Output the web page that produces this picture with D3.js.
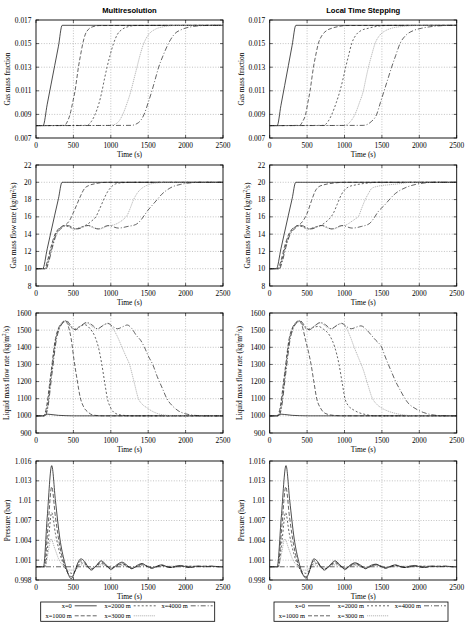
<!DOCTYPE html>
<html>
<head>
<meta charset="utf-8">
<script src="https://cdn.jsdelivr.net/npm/d3@7"></script>
<style>
  body { margin: 0; background: #fff; }
  svg text { font-family: "Liberation Serif", "Times New Roman", serif; fill: #000; }
  svg text.title { font-family: "Liberation Sans", Arial, sans-serif; font-weight: bold; }
</style>
</head>
<body>
<svg id="chart"></svg>
<script>
// ---------- data ----------
const seriesNames = ['x=0', 'x=1000 m', 'x=2000 m', 'x=3000 m', 'x=4000 m']
const panelTitles = ['Multiresolution', 'Local Time Stepping']

const xTicks = [0, 500, 1000, 1500, 2000, 2500]
const fracTicks = [0.007, 0.009, 0.011, 0.013, 0.015, 0.017]
const fracLabels = ['0.007', '0.009', '0.011', '0.013', '0.015', '0.017']
const gasTicks = [8, 10, 12, 14, 16, 18, 20, 22]
const gasLabels = ['8', '10', '12', '14', '16', '18', '20', '22']
const liqTicks = [900, 1000, 1100, 1200, 1300, 1400, 1500, 1600]
const liqLabels = ['900', '1000', '1100', '1200', '1300', '1400', '1500', '1600']
const presTicks = [0.998, 1.001, 1.004, 1.007, 1.010, 1.013, 1.016]
const presLabels = ['0.998', '1.001', '1.004', '1.007', '1.01', '1.013', '1.016']

// gas mass fraction, [time, value] per series (x=0 ... x=4000 m)
const mrGasFraction = [
  [[0,.00805],[95,.00805],[150,.00986],[200,.01150],[250,.01314],[300,.01478],[350,.01655],[2500,.01655]],
  [[0,.00805],[380,.00807],[420,.0084],[455,.009],[490,.0100],[522,.011],[545,.012],[567,.013],[595,.014],[625,.015],[660,.0158],[700,.0162],[760,.01643],[850,.01653],[2500,.01655]],
  [[0,.00805],[680,.00807],[740,.0084],[790,.009],[840,.0099],[880,.0109],[915,.012],[950,.013],[990,.014],[1036,.015],[1090,.0158],[1150,.0162],[1230,.01643],[1330,.01653],[2500,.01655]],
  [[0,.00805],[1000,.00807],[1090,.0083],[1160,.009],[1220,.0100],[1270,.011],[1310,.012],[1350,.013],[1390,.014],[1440,.015],[1510,.0158],[1590,.0162],[1700,.01642],[1850,.01653],[2500,.01655]],
  [[0,.00805],[1270,.00807],[1370,.0083],[1445,.009],[1500,.0100],[1550,.011],[1595,.012],[1640,.013],[1700,.014],[1770,.015],[1850,.0158],[1950,.0162],[2080,.01643],[2250,.01653],[2500,.01655]]
]
const ltsGasFraction = [
  [[0,.00805],[100,.00805],[150,.00975],[200,.01145],[250,.01315],[300,.01485],[350,.01655],[2500,.01655]],
  [[0,.00805],[400,.00807],[440,.0084],[480,.009],[510,.0100],[540,.011],[562,.012],[585,.013],[615,.014],[650,.015],[700,.0157],[760,.0161],[830,.0163],[920,.01645],[1010,.01653],[2500,.01655]],
  [[0,.00805],[720,.00807],[780,.0084],[830,.009],[890,.0100],[940,.011],[980,.012],[1016,.013],[1055,.014],[1096,.015],[1150,.0157],[1220,.0161],[1320,.0163],[1450,.01648],[1600,.01654],[2500,.01655]],
  [[0,.00805],[1000,.00807],[1080,.0084],[1140,.009],[1200,.0100],[1252,.011],[1285,.012],[1320,.013],[1362,.014],[1408,.015],[1470,.0157],[1550,.0161],[1630,.0163],[1800,.01647],[2000,.01654],[2500,.01655]],
  [[0,.00805],[1250,.00807],[1360,.0084],[1430,.009],[1480,.0100],[1530,.011],[1580,.012],[1630,.013],[1685,.014],[1742,.015],[1820,.0157],[1920,.0161],[2030,.0163],[2200,.01647],[2390,.01654],[2500,.01655]]
]

// gas mass flow rate (kg/m2/s)
const mrGasFlow = [
  [[0,10],[90,10],[150,12.3],[200,14.25],[250,16.2],[300,18.1],[348,20],[2500,20]],
  [[0,10],[115,10],[150,10.8],[200,12.5],[250,13.9],[300,14.6],[350,14.9],[400,15.1],[450,15.6],[500,16.5],[550,17.5],[600,18.5],[650,19.3],[700,19.6],[800,19.85],[950,20],[2500,20]],
  [[0,10],[125,10],[160,10.8],[210,12.5],[260,13.9],[310,14.6],[380,15.0],[450,14.8],[520,14.6],[600,14.8],[680,15.1],[740,15.5],[800,16.0],[850,16.9],[900,17.9],[950,18.8],[1000,19.4],[1060,19.8],[1150,19.95],[1300,20],[2500,20]],
  [[0,10],[130,10],[165,10.8],[215,12.5],[265,13.9],[320,14.6],[400,15.0],[500,14.6],[580,14.7],[680,15.0],[780,14.7],[850,14.6],[950,14.9],[1050,15.1],[1120,15.4],[1180,15.8],[1220,16.2],[1260,17.0],[1300,17.9],[1350,18.7],[1400,19.2],[1450,19.5],[1530,19.8],[1650,19.95],[1800,20],[2500,20]],
  [[0,10],[135,10],[170,10.8],[220,12.5],[270,13.9],[330,14.6],[420,15.0],[550,14.6],[700,15.0],[830,14.6],[970,15.0],[1100,14.7],[1230,14.9],[1330,15.1],[1400,15.6],[1450,16.2],[1500,16.8],[1560,17.4],[1620,18.0],[1680,18.6],[1750,19.1],[1830,19.5],[1930,19.75],[2030,19.9],[2200,20],[2500,20]]
]
const ltsGasFlow = [
  [[0,10],[90,10],[150,12.3],[200,14.25],[250,16.2],[300,18.1],[348,20],[2500,20]],
  [[0,10],[110,10],[150,10.9],[200,12.6],[250,13.9],[300,14.6],[350,14.9],[400,15.1],[450,15.6],[500,16.4],[560,17.9],[610,19.0],[650,19.45],[720,19.7],[850,19.9],[1000,20],[2500,20]],
  [[0,10],[120,10],[160,10.9],[210,12.6],[260,13.9],[310,14.6],[380,15.0],[450,14.8],[520,14.6],[600,14.8],[680,15.0],[750,15.4],[800,15.8],[850,16.4],[900,17.4],[960,18.6],[1000,19.1],[1050,19.45],[1150,19.7],[1300,19.9],[1450,20],[2500,20]],
  [[0,10],[125,10],[165,10.9],[215,12.6],[265,13.9],[320,14.6],[400,15.0],[500,14.6],[580,14.7],[680,15.0],[780,14.7],[850,14.6],[950,14.9],[1030,15.1],[1100,15.5],[1150,15.8],[1190,16.1],[1230,17.0],[1275,17.95],[1320,18.7],[1365,19.3],[1450,19.55],[1580,19.7],[1700,19.8],[1900,20],[2500,20]],
  [[0,10],[130,10],[170,10.9],[220,12.6],[270,13.9],[330,14.6],[420,15.0],[550,14.6],[700,15.0],[830,14.6],[970,15.0],[1100,14.7],[1230,14.9],[1330,15.2],[1390,15.8],[1450,16.6],[1540,17.4],[1610,18.1],[1680,18.7],[1760,19.15],[1850,19.5],[1950,19.75],[2050,19.9],[2200,20],[2500,20]]
]

// liquid mass flow rate (kg/m2/s)
const mrLiquidFlow = [
  [[0,1000],[100,1000],[150,1010],[200,1008],[300,1003],[400,1001],[500,1000],[2500,1000]],
  [[0,1000],[100,1000],[130,1030],[200,1250],[260,1450],[300,1510],[350,1545],[390,1555],[430,1525],[470,1450],[510,1320],[550,1210],[590,1110],[640,1050],[700,1020],[770,1004],[900,1000],[2500,1000]],
  [[0,1000],[110,1000],[140,1030],[205,1250],[265,1450],[305,1510],[355,1543],[400,1553],[450,1525],[510,1505],[580,1520],[650,1532],[720,1510],[790,1460],[840,1390],[880,1300],[920,1190],[955,1100],[1000,1045],[1060,1015],[1150,1004],[1300,1000],[2500,1000]],
  [[0,1000],[115,1000],[145,1030],[210,1250],[270,1450],[310,1510],[360,1543],[400,1550],[460,1522],[520,1505],[600,1525],[680,1542],[760,1518],[830,1508],[900,1530],[960,1538],[1020,1515],[1080,1470],[1150,1400],[1200,1350],[1250,1300],[1310,1200],[1370,1100],[1420,1068],[1480,1048],[1550,1028],[1650,1010],[1750,1003],[1850,1000],[2500,1000]],
  [[0,1000],[120,1000],[150,1030],[215,1250],[275,1450],[315,1510],[365,1545],[405,1557],[460,1530],[530,1502],[600,1525],[680,1545],[750,1530],[820,1508],[890,1525],[960,1540],[1030,1520],[1090,1508],[1160,1520],[1220,1530],[1280,1510],[1340,1470],[1400,1440],[1450,1400],[1500,1350],[1560,1300],[1620,1230],[1690,1160],[1750,1100],[1820,1060],[1900,1030],[2000,1012],[2100,1004],[2250,1000],[2500,1000]]
]
const ltsLiquidFlow = [
  [[0,1000],[100,1000],[150,1010],[200,1008],[300,1003],[400,1001],[500,1000],[2500,1000]],
  [[0,1000],[100,1000],[130,1030],[200,1250],[260,1450],[300,1510],[350,1545],[390,1555],[430,1530],[480,1440],[520,1370],[553,1300],[590,1200],[629,1100],[680,1045],[740,1015],[850,1003],[1000,1000],[2500,1000]],
  [[0,1000],[110,1000],[140,1030],[205,1250],[265,1450],[305,1510],[355,1543],[400,1553],[450,1525],[510,1505],[580,1515],[650,1522],[720,1505],[800,1470],[870,1400],[927,1300],[970,1190],[1007,1100],[1060,1055],[1120,1035],[1185,1020],[1280,1008],[1400,1000],[2500,1000]],
  [[0,1000],[115,1000],[145,1030],[210,1250],[270,1450],[310,1510],[360,1543],[400,1550],[460,1522],[520,1505],[600,1525],[680,1542],[760,1518],[830,1508],[900,1530],[960,1538],[1020,1515],[1070,1470],[1130,1400],[1190,1335],[1250,1270],[1310,1185],[1370,1105],[1430,1068],[1500,1045],[1580,1028],[1676,1015],[1800,1005],[1950,1000],[2500,1000]],
  [[0,1000],[120,1000],[150,1030],[215,1250],[275,1450],[315,1510],[365,1545],[405,1557],[460,1530],[530,1502],[600,1525],[680,1545],[750,1530],[820,1508],[890,1525],[960,1540],[1030,1520],[1090,1508],[1160,1518],[1220,1525],[1300,1500],[1360,1470],[1420,1440],[1497,1400],[1540,1350],[1586,1300],[1635,1250],[1684,1200],[1745,1150],[1809,1100],[1860,1070],[1920,1050],[1990,1032],[2054,1020],[2150,1008],[2250,1002],[2400,1000],[2500,1000]]
]

// pressure (bar)
const mrPressure = [
  [[0,1],[100,1],[150,1.0075],[210,1.0153],[260,1.0100],[320,1.0042],[380,1.0008],[430,0.9989],[470,0.9982],[520,0.9993],[560,1.0006],[600,1.0012],[650,1.0008],[700,0.9999],[740,0.9995],[800,1.0001],[870,1.0009],[930,1.0004],[1000,0.9996],[1080,1.0003],[1150,1.0007],[1220,1.0002],[1280,0.9997],[1350,1.0002],[1420,1.0005],[1480,1.0001],[1550,0.9998],[1620,1.0001],[1680,1.0003],[1750,1.0],[1800,0.9999],[1870,1.0001],[1930,1.0002],[2000,1.0],[2060,0.9999],[2150,1.0001],[2250,1.0],[2350,1.0001],[2450,1.0],[2500,1.0]],
  [[0,1],[110,1],[160,1.006],[210,1.0121],[260,1.0075],[320,1.0030],[380,1.0003],[440,0.9988],[475,0.9985],[520,0.9993],[560,1.0004],[600,1.0009],[650,1.0006],[700,0.9999],[740,0.9996],[800,1.0001],[870,1.0007],[930,1.0003],[1000,0.9997],[1080,1.0002],[1150,1.0005],[1220,1.0001],[1280,0.9998],[1350,1.0001],[1420,1.0004],[1480,1.0001],[1550,0.9998],[1680,1.0002],[1800,0.9999],[1930,1.0001],[2060,0.9999],[2200,1.0001],[2500,1.0]],
  [[0,1],[120,1],[165,1.004],[210,1.0082],[260,1.0050],[320,1.0020],[380,1.0],[440,0.9992],[480,0.9990],[530,0.9995],[600,1.0006],[650,1.0004],[740,0.9997],[870,1.0005],[1000,0.9998],[1150,1.0004],[1280,0.9998],[1420,1.0003],[1550,0.9999],[1680,1.0002],[1800,0.9999],[1930,1.0001],[2500,1.0]],
  [[0,1],[120,1],[160,1.002],[200,1.0042],[250,1.0028],[310,1.0010],[380,1.0],[450,0.9995],[480,0.9995],[600,1.0003],[740,0.9998],[870,1.0003],[1000,0.9999],[1150,1.0002],[1280,0.9999],[1420,1.0002],[1550,0.9999],[1680,1.0001],[2500,1.0]],
  [[0,1],[2500,1]]
]
const ltsPressure = [
  [[0,1],[100,1],[155,1.0075],[218,1.0153],[268,1.0100],[328,1.0042],[388,1.0008],[440,0.9989],[484,0.9983],[530,0.9993],[560,1.0005],[590,1.0012],[640,1.0008],[690,0.9999],[731,0.9995],[800,1.0002],[873,1.0009],[930,1.0004],[1007,0.9996],[1080,1.0003],[1141,1.0006],[1220,1.0002],[1280,0.9997],[1350,1.0002],[1420,1.0004],[1480,1.0001],[1550,0.9998],[1620,1.0001],[1680,1.0003],[1750,1.0],[1810,0.9999],[1870,1.0001],[1940,1.0002],[2000,1.0],[2070,0.9999],[2150,1.0001],[2250,1.0],[2350,1.0001],[2450,1.0],[2500,1.0]],
  [[0,1],[110,1],[162,1.006],[215,1.0121],[265,1.0075],[325,1.0030],[385,1.0003],[445,0.9988],[482,0.9985],[530,0.9993],[560,1.0004],[590,1.0009],[640,1.0006],[690,0.9999],[731,0.9996],[800,1.0001],[873,1.0007],[930,1.0003],[1007,0.9997],[1080,1.0002],[1141,1.0005],[1220,1.0001],[1280,0.9998],[1350,1.0001],[1420,1.0003],[1480,1.0001],[1550,0.9998],[1680,1.0002],[1810,0.9999],[1940,1.0001],[2070,0.9999],[2200,1.0001],[2500,1.0]],
  [[0,1],[115,1],[165,1.004],[212,1.0082],[262,1.0050],[322,1.0020],[385,1.0],[445,0.9992],[485,0.9990],[530,0.9995],[595,1.0006],[645,1.0004],[731,0.9997],[873,1.0005],[1007,0.9998],[1141,1.0004],[1280,0.9998],[1420,1.0003],[1550,0.9999],[1680,1.0002],[1810,0.9999],[1940,1.0001],[2500,1.0]],
  [[0,1],[115,1],[158,1.002],[202,1.0042],[252,1.0028],[312,1.0010],[385,1.0],[450,0.9995],[485,0.9995],[595,1.0003],[731,0.9998],[873,1.0003],[1007,0.9999],[1141,1.0002],[1280,0.9999],[1420,1.0002],[1550,0.9999],[1680,1.0001],[2500,1.0]],
  [[0,1],[2500,1]]
]

// ---------- layout ----------
const width = 470
const height = 622
const colLeft = [36, 269.7]
const plotW = 187

const rows = [
  { top: 20, h: 118, domain: [0.007, 0.017], ticks: fracTicks, labels: fracLabels,
    ylab: ['Gas mass fraction'], ylabX: [7, 241], data: [mrGasFraction, ltsGasFraction] },
  { top: 165, h: 121, domain: [8, 22], ticks: gasTicks, labels: gasLabels,
    ylab: ['Gas mass flow rate (kg/m', '2', '/s)'], ylabX: [13.5, 247], data: [mrGasFlow, ltsGasFlow] },
  { top: 313, h: 120, domain: [900, 1600], ticks: liqTicks, labels: liqLabels,
    ylab: ['Liquid mass flow rate (kg/m', '2', '/s)'], ylabX: [6, 239], data: [mrLiquidFlow, ltsLiquidFlow] },
  { top: 461, h: 119, domain: [0.998, 1.016], ticks: presTicks, labels: presLabels,
    ylab: ['Pressure (bar)'], ylabX: [7, 241], data: [mrPressure, ltsPressure] }
]

const seriesStyle = [
  { stroke: '#111', dash: null, w: 0.75 },
  { stroke: '#111', dash: '4,2', w: 0.65 },
  { stroke: '#111', dash: '2,2', w: 0.65 },
  { stroke: '#999', dash: '1.2,0.8', w: 0.7 },
  { stroke: '#111', dash: '5,2,1,2', w: 0.65 }
]

const svg = d3.select('#chart')
  .attr('width', width)
  .attr('height', height)

svg.append('rect').attr('width', width).attr('height', height).attr('fill', '#fff')

/**
 * Draws one panel (row r, column c).
 */
function drawPanel (r, c) {
  const row = rows[r]
  const left = colLeft[c]
  const xScale = d3.scaleLinear().domain([0, 2500]).range([0, plotW])
  const yScale = d3.scaleLinear().domain(row.domain).range([row.h, 0])

  const g = svg.append('g')
    .attr('transform', 'translate(' + left + ',' + row.top + ')')

  const clipId = 'clip-' + r + '-' + c
  g.append('clipPath').attr('id', clipId)
    .append('rect').attr('width', plotW).attr('height', row.h)

  // grid
  const grid = g.append('g').attr('class', 'grid')
  grid.selectAll('.gx')
    .data(xTicks.slice(1, -1))
    .enter().append('line')
    .attr('x1', d => xScale(d)).attr('x2', d => xScale(d))
    .attr('y1', 0).attr('y2', row.h)
  grid.selectAll('.gy')
    .data(row.ticks.slice(1, -1))
    .enter().append('line')
    .attr('y1', d => yScale(d)).attr('y2', d => yScale(d))
    .attr('x1', 0).attr('x2', plotW)
  grid.selectAll('line')
    .attr('stroke', '#9a9a9a')
    .attr('stroke-width', 0.6)
    .attr('stroke-dasharray', '1,1.6')

  // inward tick marks, mirrored on top and right
  const tk = g.append('g')
  xTicks.forEach(t => {
    tk.append('line').attr('x1', xScale(t)).attr('x2', xScale(t)).attr('y1', row.h).attr('y2', row.h - 3)
    tk.append('line').attr('x1', xScale(t)).attr('x2', xScale(t)).attr('y1', 0).attr('y2', 3)
  })
  row.ticks.forEach(t => {
    tk.append('line').attr('y1', yScale(t)).attr('y2', yScale(t)).attr('x1', 0).attr('x2', 3)
    tk.append('line').attr('y1', yScale(t)).attr('y2', yScale(t)).attr('x1', plotW).attr('x2', plotW - 3)
  })
  tk.selectAll('line').attr('stroke', '#000').attr('stroke-width', 0.6)

  // series
  const line = d3.line()
    .x(d => xScale(d[0]))
    .y(d => yScale(d[1]))
    .curve(d3.curveMonotoneX)

  g.append('g').attr('clip-path', 'url(#' + clipId + ')')
    .selectAll('path')
    .data(row.data[c])
    .enter().append('path')
    .attr('d', line)
    .attr('fill', 'none')
    .attr('stroke', (d, i) => seriesStyle[i].stroke)
    .attr('stroke-width', (d, i) => seriesStyle[i].w)
    .attr('stroke-dasharray', (d, i) => seriesStyle[i].dash)
    .attr('stroke-linejoin', 'round')

  // frame
  g.append('rect')
    .attr('width', plotW).attr('height', row.h)
    .attr('fill', 'none').attr('stroke', '#000').attr('stroke-width', 0.9)

  // tick labels
  g.selectAll('.xl')
    .data(xTicks)
    .enter().append('text')
    .attr('x', d => xScale(d))
    .attr('y', row.h + 10.3)
    .attr('text-anchor', 'middle')
    .attr('font-size', 7.4)
    .text(d => d)

  g.selectAll('.yl')
    .data(row.ticks)
    .enter().append('text')
    .attr('x', -4.5)
    .attr('y', d => yScale(d) + 2.5)
    .attr('text-anchor', 'end')
    .attr('font-size', 7.4)
    .text((d, i) => row.labels[i])

  // x axis title
  g.append('text')
    .attr('x', plotW / 2)
    .attr('y', row.h + 19)
    .attr('text-anchor', 'middle')
    .attr('font-size', 7.4)
    .text('Time (s)')

  // y axis title
  const yl = svg.append('text')
    .attr('transform', 'translate(' + (row.ylabX[c] + 2.5) + ',' + (row.top + row.h / 2) + ') rotate(-90)')
    .attr('text-anchor', 'middle')
    .attr('font-size', 7.4)
  yl.append('tspan').text(row.ylab[0])
  if (row.ylab.length > 1) {
    yl.append('tspan').attr('dy', -2.5).attr('font-size', 5.2).text(row.ylab[1])
    yl.append('tspan').attr('dy', 2.5).text(row.ylab[2])
  }

  if (r === 0) {
    svg.append('text')
      .attr('class', 'title')
      .attr('x', left + plotW / 2)
      .attr('y', 12.5)
      .attr('text-anchor', 'middle')
      .attr('font-size', 7.6)
      .text(panelTitles[c])
  }
}

/**
 * Draws the legend box under a column.
 */
function drawLegend (x0) {
  const lg = svg.append('g').attr('transform', 'translate(' + x0 + ',602)')
  lg.append('rect')
    .attr('width', 174).attr('height', 19.3)
    .attr('fill', '#fff').attr('stroke', '#000').attr('stroke-width', 0.8)

  const slots = [[0, 0], [1, 0], [0, 1], [1, 1], [0, 2]]  // [row, col] per series
  const sampleX = [34, 93, 150]
  seriesNames.forEach((name, i) => {
    const [rr, cc] = slots[i]
    const y = 3.8 + rr * 10
    const sx = sampleX[cc]
    lg.append('text')
      .attr('x', sx - 3)
      .attr('y', y + 2.2)
      .attr('text-anchor', 'end')
      .attr('font-size', 6.4)
      .text(name)
    lg.append('line')
      .attr('x1', sx).attr('x2', sx + 22)
      .attr('y1', y).attr('y2', y)
      .attr('stroke', seriesStyle[i].stroke)
      .attr('stroke-width', seriesStyle[i].w)
      .attr('stroke-dasharray', seriesStyle[i].dash)
  })
}

for (let r = 0; r < rows.length; r++) {
  for (let c = 0; c < 2; c++) drawPanel(r, c)
}
drawLegend(40.7)
drawLegend(274)
</script>
</body>
</html>
